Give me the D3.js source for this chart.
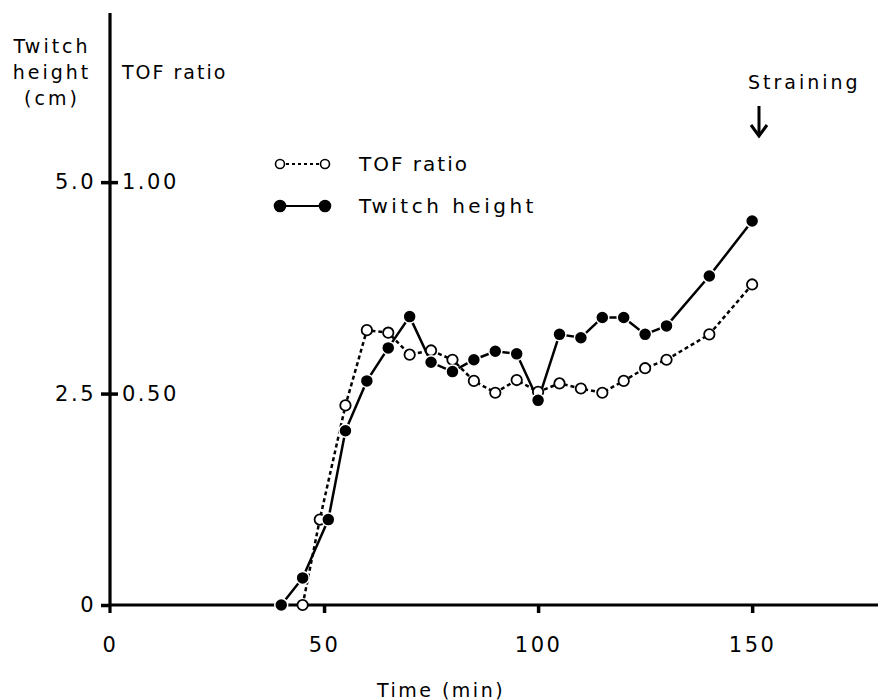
<!DOCTYPE html>
<html>
<head>
<meta charset="utf-8">
<script src="https://cdn.jsdelivr.net/npm/d3@7"></script>
<style>
  body { margin: 0; background: #fff; }
  svg text { font-family: "DejaVu Sans", sans-serif; fill: #000; }
</style>
</head>
<body>
<div id="chart"></div>
<script>
// time (min) and values
const twitchTime = [40, 45, 51, 55, 60, 65, 70, 75, 80, 85, 90, 95, 100, 105, 110, 115, 120, 125, 130, 140, 150]
const twitchHeight = [0, 0.32, 1.01, 2.06, 2.65, 3.04, 3.41, 2.87, 2.76, 2.9, 3.0, 2.97, 2.42, 3.2, 3.16, 3.4, 3.4, 3.2, 3.3, 3.89, 4.54]

const tofTime = [45, 49, 55, 60, 65, 70, 75, 80, 85, 90, 95, 100, 105, 110, 115, 120, 125, 130, 140, 150]
const tofRatio = [0, 0.202, 0.472, 0.65, 0.644, 0.592, 0.602, 0.58, 0.53, 0.502, 0.532, 0.504, 0.524, 0.512, 0.502, 0.53, 0.56, 0.58, 0.64, 0.758]

const xTicks = [0, 50, 100, 150]
const cmTicks = [0, 2.5, 5.0]
const cmTickLabels = ['0', '2.5', '5.0']
const tofTicks = [0.5, 1.0]
const tofTickLabels = ['0.50', '1.00']
const legendNames = ['TOF ratio', 'Twitch height']

const W = 878, H = 700

const svg = d3.select('#chart').append('svg')
  .attr('width', W).attr('height', H)

const x = d3.scaleLinear().domain([0, 179.4]).range([110, 878])
const yCm = d3.scaleLinear().domain([0, 7]).range([605, 13])
const yTof = d3.scaleLinear().domain([0, 1.4]).range([605, 13])

// axis lines
svg.append('line')
  .attr('x1', x(0)).attr('x2', x(0))
  .attr('y1', yCm(7)).attr('y2', yCm(0) + 8)
  .attr('stroke', '#000').attr('stroke-width', 3.2)
svg.append('line')
  .attr('x1', x(0)).attr('x2', W)
  .attr('y1', yCm(0)).attr('y2', yCm(0))
  .attr('stroke', '#000').attr('stroke-width', 3.2)

// left axis (cm)
const gLeft = svg.append('g')
  .attr('transform', `translate(${x(0)},0)`)
  .call(d3.axisLeft(yCm).tickValues(cmTicks)
    .tickFormat((d, i) => cmTickLabels[i]).tickSize(9).tickPadding(5))
// right side (TOF ratio)
const gRight = svg.append('g')
  .attr('transform', `translate(${x(0)},0)`)
  .call(d3.axisRight(yTof).tickValues(tofTicks)
    .tickFormat((d, i) => tofTickLabels[i]).tickSize(8).tickPadding(4))
// x axis
const gBottom = svg.append('g')
  .attr('transform', `translate(0,${yCm(0)})`)
  .call(d3.axisBottom(x).tickValues(xTicks).tickFormat(d3.format('d'))
    .tickSize(8).tickPadding(24))

for (const g of [gLeft, gRight, gBottom]) {
  g.select('.domain').remove()
  g.selectAll('.tick line').attr('stroke', '#000').attr('stroke-width', 3.5)
  g.selectAll('.tick text')
    .style('font-size', '21px')
    .style('letter-spacing', '2.5px')
    .attr('fill', '#000')
}
gBottom.selectAll('.tick').filter(d => d === 0).select('line').remove()

// axis titles
const leftTitle = svg.append('text')
  .attr('text-anchor', 'middle')
  .style('font-size', '19px').style('letter-spacing', '3px')
;['Twitch', 'height', '(cm)'].forEach((t, i) => {
  leftTitle.append('tspan').attr('x', 52).attr('y', 53 + i * 26).text(t)
})
svg.append('text')
  .attr('x', 122).attr('y', 79)
  .style('font-size', '19px').style('letter-spacing', '2px')
  .text('TOF ratio')
svg.append('text')
  .attr('x', 441).attr('y', 697)
  .attr('text-anchor', 'middle')
  .style('font-size', '19px').style('letter-spacing', '2.5px')
  .text('Time (min)')

// lines
const twitchData = twitchTime.map((t, i) => ({ t, v: twitchHeight[i] }))
const tofData = tofTime.map((t, i) => ({ t, v: tofRatio[i] }))

svg.append('path')
  .datum(tofData)
  .attr('fill', 'none').attr('stroke', '#000').attr('stroke-width', 2.5)
  .attr('stroke-dasharray', '4,3')
  .attr('d', d3.line().x(d => x(d.t)).y(d => yTof(d.v)))

svg.append('path')
  .datum(twitchData)
  .attr('fill', 'none').attr('stroke', '#000').attr('stroke-width', 2.5)
  .attr('d', d3.line().x(d => x(d.t)).y(d => yCm(d.v)))

svg.append('g').selectAll('circle')
  .data(tofData)
  .join('circle')
  .attr('cx', d => x(d.t)).attr('cy', d => yTof(d.v))
  .attr('r', 5.2)
  .attr('fill', '#fff').attr('stroke', '#000').attr('stroke-width', 1.8)

svg.append('g').selectAll('circle')
  .data(twitchData)
  .join('circle')
  .attr('cx', d => x(d.t)).attr('cy', d => yCm(d.v))
  .attr('r', 6.5)
  .attr('fill', '#000').attr('stroke', '#fff').attr('stroke-width', 1.5)

// legend
const legend = svg.append('g')
legendNames.forEach((name, i) => {
  const ly = 164 + i * 42
  const row = legend.append('g')
  row.append('line')
    .attr('x1', 280).attr('x2', 325).attr('y1', ly).attr('y2', ly)
    .attr('stroke', '#000').attr('stroke-width', 2)
    .attr('stroke-dasharray', i === 0 ? '3,3' : null)
  for (const cx of [280, 325]) {
    row.append('circle')
      .attr('cx', cx).attr('cy', ly)
      .attr('r', i === 0 ? 4.5 : 5.5)
      .attr('fill', i === 0 ? '#fff' : '#000')
      .attr('stroke', '#000').attr('stroke-width', 1.6)
  }
  row.append('text')
    .attr('x', 359).attr('y', ly + 7)
    .style('font-size', '20px').style('letter-spacing', i === 0 ? '2px' : '3.5px')
    .text(name)
})

// straining marker
svg.append('text')
  .attr('x', 748).attr('y', 89)
  .style('font-size', '19px').style('letter-spacing', '3px')
  .text('Straining')
svg.append('line')
  .attr('x1', 759).attr('x2', 759).attr('y1', 106).attr('y2', 134)
  .attr('stroke', '#000').attr('stroke-width', 3)
svg.append('path')
  .attr('d', 'M751,125 L759,136 L767,125')
  .attr('fill', 'none').attr('stroke', '#000').attr('stroke-width', 3)
</script>
</body>
</html>
